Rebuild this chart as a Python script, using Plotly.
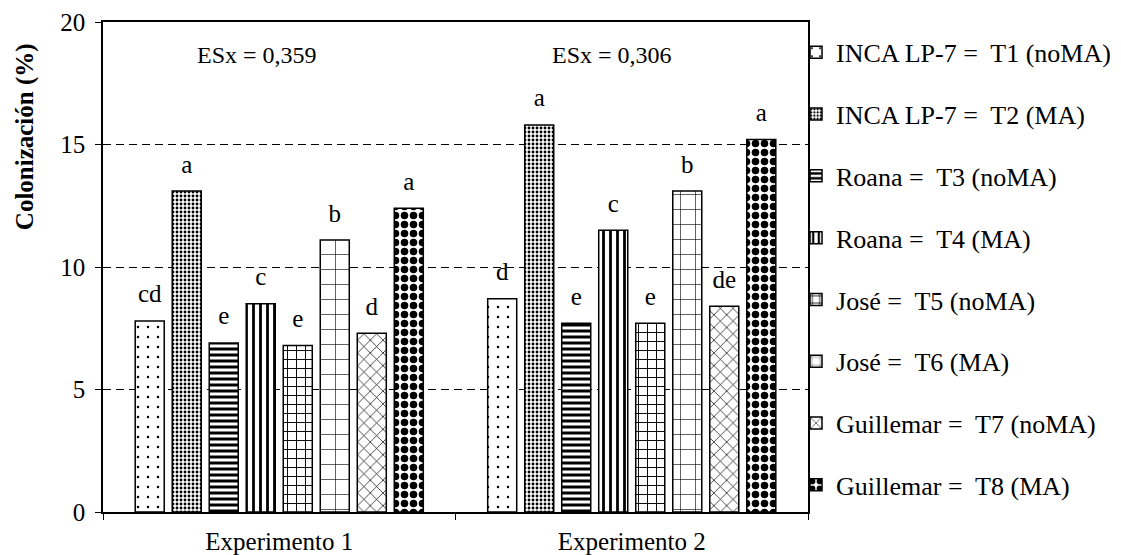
import plotly.graph_objects as go

categories = ["Experimento 1", "Experimento 2"]
treatments = [
    "INCA LP-7 =\u00a0 T1 (noMA)",
    "INCA LP-7 =\u00a0 T2 (MA)",
    "Roana =\u00a0 T3 (noMA)",
    "Roana =\u00a0 T4 (MA)",
    "José =\u00a0 T5 (noMA)",
    "José =\u00a0 T6 (MA)",
    "Guillemar =\u00a0 T7 (noMA)",
    "Guillemar =\u00a0 T8 (MA)",
]
exp1_values = [7.8, 13.1, 6.9, 8.5, 6.8, 11.1, 7.3, 12.4]
exp2_values = [8.7, 15.8, 7.7, 11.5, 7.7, 13.1, 8.4, 15.2]
exp1_letters = ["cd", "a", "e", "c", "e", "b", "d", "a"]
exp2_letters = ["d", "a", "e", "c", "e", "b", "de", "a"]
es_labels = ["ESx = 0,359", "ESx = 0,306"]
y_ticks = [0, 5, 10, 15, 20]

patterns = [
    dict(shape=".", size=10, solidity=0.05),
    dict(shape=".", size=4, solidity=0.4),
    dict(shape="-", size=6, solidity=0.5),
    dict(shape="|", size=7, solidity=0.4),
    dict(shape="+", size=9, solidity=0.2),
    dict(shape="+", size=15, solidity=0.08),
    dict(shape="x", size=9, solidity=0.15),
    dict(shape=".", size=9, solidity=0.55),
]

FONT = "Liberation Serif"

fig = go.Figure()
for i, name in enumerate(treatments):
    pat = dict(patterns[i])
    pat.update(fgcolor="black", bgcolor="white", fillmode="overlay", fgopacity=1)
    fig.add_trace(go.Bar(
        x=categories,
        y=[exp1_values[i], exp2_values[i]],
        name=name,
        legendgroup=name,
        offsetgroup=str(i),
        marker=dict(color="white", pattern=pat, line=dict(color="black", width=1.5)),
        hoverinfo="skip",
    ))
for i, name in enumerate(treatments):
    fig.add_trace(go.Scatter(
        x=categories,
        y=[exp1_values[i], exp2_values[i]],
        mode="markers+text",
        text=[exp1_letters[i], exp2_letters[i]],
        textposition="top center",
        textfont=dict(family=FONT, size=25, color="black"),
        marker=dict(size=18, color="rgba(0,0,0,0)"),
        offsetgroup=str(i),
        showlegend=False,
        hoverinfo="skip",
        cliponaxis=False,
    ))

fig.add_annotation(text=es_labels[0], xref="paper", yref="paper", x=0.218, y=0.933,
                   xanchor="center", yanchor="middle",
                   showarrow=False, font=dict(family=FONT, size=24, color="black"))
fig.add_annotation(text=es_labels[1], xref="paper", yref="paper", x=0.722, y=0.933,
                   xanchor="center", yanchor="middle",
                   showarrow=False, font=dict(family=FONT, size=24, color="black"))
fig.add_annotation(text="<b>Colonización (%)</b>", xref="paper", yref="paper",
                   x=-0.1106, y=0.765, xanchor="center", yanchor="middle",
                   textangle=-90, showarrow=False,
                   font=dict(family=FONT, size=25, color="black"))

fig.update_layout(
    width=1113, height=547,
    margin=dict(l=95, r=313, t=14, b=43, autoexpand=False),
    paper_bgcolor="white", plot_bgcolor="white",
    barmode="group", bargap=0.16, bargroupgap=0.216,
    scattermode="group",
    font=dict(family=FONT, size=25, color="black"),
    legend=dict(x=0.983, xanchor="left", y=0.986, yanchor="top",
                font=dict(family=FONT, size=26, color="black"),
                tracegroupgap=25, itemwidth=30, bgcolor="rgba(0,0,0,0)",
                traceorder="grouped"),
)
fig.update_xaxes(
    showline=True, linecolor="black", linewidth=1.5, mirror=True,
    ticks="outside", tickson="boundaries", ticklen=6, tickcolor="black",
    tickfont=dict(family=FONT, size=25, color="black"),
    ticklabelstandoff=6,
    showgrid=False,
)
fig.update_yaxes(
    range=[0, 20], tickvals=y_ticks,
    showline=True, linecolor="black", linewidth=1.5, mirror=True,
    ticks="outside", ticklen=6, tickcolor="black",
    tickfont=dict(family=FONT, size=25, color="black"),
    ticklabelstandoff=5,
    showgrid=True, gridcolor="black", gridwidth=1.3, griddash="8px,5px",
    zeroline=False,
)

fig.write_html("out.html")
